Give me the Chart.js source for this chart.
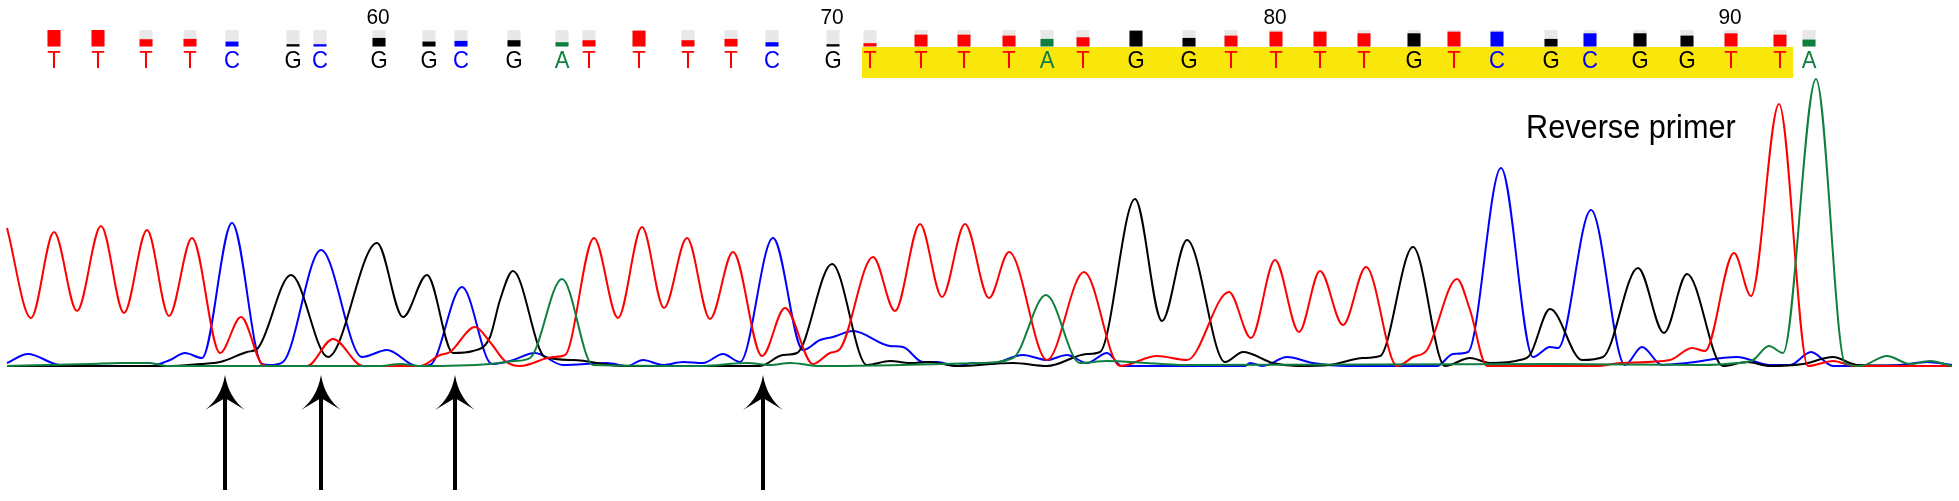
<!DOCTYPE html>
<html>
<head>
<meta charset="utf-8">
<script src="https://cdn.jsdelivr.net/npm/chart.js@4.4.1/dist/chart.umd.min.js"></script>
<style>
html,body{margin:0;padding:0;background:#fff;}
canvas{display:block;}
</style>
</head>
<body>
<canvas id="c" width="1959" height="501"></canvas>
<script>
// ---- base calls (first base number 53) ----
const firstBaseNumber = 53;
const baseCalls = "TTTTCGCGGCGATTTTCGTTTTATGGTTTTGTCGCGGTTA".split('');
const basePositions = [54,98,146,190,232,293,320,379,429,461,514,562,589,639,
  688,731,772,833,870,921,964,1009,1047,1083,1136,1189,1231,1276,
  1320,1364,1414,1454,1497,1551,1590,1640,1687,1731,1780,1809];
const qualityPct = [100,100,44,46,30,14,14,52,30,34,38,26,38,96,
  38,46,26,14,20,72,72,66,46,56,96,52,66,90,
  90,80,80,90,90,46,80,80,66,80,72,42];
const tickNumbers = [60,70,80,90];
const highlightBases = [71,91];
const arrowPositions = [225,321,455,763];
const annotationText = "Reverse primer";

// ---- traces: [scan, intensity] ----
const traceT = [[7,138],[31,48],[54,134],[77,55],[101,140],[124,53],[147,136],[169,50],[192,128],[220,13],[241,49],[263,1],[270,0],[307,0],[333,27],[363,0],[420,0],[440,11],[450,14],[475,39],[490,24],[505,5],[520,0],[553,9],[565,11],[594,128],[618,48],[642,139],[664,58],[687,128],[710,47],[733,114],[762,10],[785,58],[813,2],[830,13],[840,17],[873,109],[895,55],[920,142],[942,69],[965,142],[989,68],[1009,114],[1047,6],[1084,94],[1120,0],[1157,10],[1187,6],[1229,74],[1251,28],[1275,106],[1299,34],[1320,95],[1343,41],[1366,99],[1397,0],[1413,9],[1427,16],[1457,87],[1470,56],[1487,0],[1597,0],[1620,3],[1670,6],[1692,18],[1705,15],[1734,113],[1751,70],[1779,262],[1808,0],[1833,5],[1855,0],[1952,0]];
const traceC = [[7,3],[28,12],[60,1],[150,0],[170,6],[185,13],[202,8],[232,143],[262,2],[270,1],[283,4],[321,116],[362,9],[387,16],[417,0],[430,1],[462,79],[492,2],[510,5],[535,13],[563,1],[607,3],[627,0],[643,6],[663,1],[683,4],[703,3],[723,12],[740,4],[773,128],[803,16],[820,26],[833,29],[853,35],[890,20],[903,19],[923,4],[937,4],[957,0],[973,3],[990,2],[1023,11],[1047,6],[1067,11],[1087,3],[1107,13],[1122,0],[1245,0],[1250,3],[1263,0],[1287,9],[1313,3],[1347,0],[1437,0],[1453,12],[1468,14],[1501,198],[1533,9],[1550,19],[1558,18],[1591,156],[1625,1],[1642,19],[1662,1],[1687,3],[1737,9],[1770,1],[1790,1],[1811,14],[1833,0],[1900,1],[1927,4],[1952,1]];
const traceG = [[7,0],[167,0],[200,2],[220,4],[247,14],[258,18],[291,91],[328,9],[377,123],[403,49],[427,91],[453,13],[473,15],[490,29],[500,66],[513,95],[545,9],[573,6],[623,0],[760,0],[783,11],[797,13],[832,102],[867,1],[890,5],[910,3],[930,4],[957,0],[1013,3],[1047,0],[1087,12],[1100,14],[1135,167],[1162,45],[1187,126],[1225,4],[1243,14],[1273,3],[1297,0],[1330,1],[1363,8],[1380,10],[1413,119],[1445,0],[1470,8],[1490,3],[1520,6],[1530,11],[1550,57],[1582,6],[1603,9],[1638,98],[1664,33],[1687,92],[1723,0],[1747,4],[1770,0],[1803,2],[1833,9],[1857,1],[1952,0]];
const traceA = [[7,0],[90,2],[120,3],[150,3],[167,0],[380,0],[400,2],[420,0],[490,2],[515,5],[530,8],[562,87],[593,1],[700,0],[747,3],[770,1],[790,3],[820,0],[980,3],[1013,8],[1046,71],[1080,3],[1107,5],[1147,3],[1180,1],[1553,2],[1700,1],[1737,3],[1753,6],[1769,20],[1783,13],[1816,287],[1845,3],[1860,0],[1887,10],[1910,2],[1930,5],[1952,0]];

const baseColors = {T:'#ff0000', C:'#0000ff', G:'#000000', A:'#0e7f3e'};

function toPts(arr){ return arr.map(p => ({x:p[0], y:p[1]})); }
function ds(arr, color){
  return {data: toPts(arr), borderColor: color, borderWidth: 2, pointRadius: 0,
    fill: false, cubicInterpolationMode: 'monotone'};
}

const FONT = "Arial, 'Liberation Sans', sans-serif";

function narrowText(ctx, txt, x, y, sx){
  ctx.save();
  ctx.translate(x, y);
  ctx.scale(sx, 1);
  ctx.fillText(txt, 0, 0);
  ctx.restore();
}

const seqPlugin = {
  id: 'seq',
  beforeDatasetsDraw(chart){
    const ctx = chart.ctx, xs = chart.scales.x;
    const i0 = highlightBases[0] - firstBaseNumber, i1 = highlightBases[1] - firstBaseNumber;
    const left = xs.getPixelForValue(basePositions[i0]) - 8;
    const right = xs.getPixelForValue(basePositions[i1]) + 13;
    ctx.save();
    ctx.fillStyle = '#f9e60b';
    ctx.fillRect(left, 47, right - left, 31);
    ctx.restore();
  },
  afterDatasetsDraw(chart){
    const ctx = chart.ctx, xs = chart.scales.x;
    ctx.save();
    // quality bars + letters
    const barW = 13, barTop = 30, barH = 16.5;
    baseCalls.forEach((b, i) => {
      const x = xs.getPixelForValue(basePositions[i]);
      ctx.fillStyle = '#e8e8e8';
      ctx.fillRect(x - barW/2, barTop, barW, barH);
      const h = barH * qualityPct[i] / 100;
      ctx.fillStyle = baseColors[b];
      ctx.fillRect(x - barW/2, barTop + barH - h, barW, h);
      ctx.font = '24px ' + FONT;
      ctx.textAlign = 'center';
      ctx.textBaseline = 'alphabetic';
      narrowText(ctx, b, x, 68, 0.92);
    });
    // position numbers
    ctx.fillStyle = '#000';
    ctx.font = '22px ' + FONT;
    ctx.textAlign = 'center';
    tickNumbers.forEach(n => {
      const x = xs.getPixelForValue(basePositions[n - firstBaseNumber]);
      narrowText(ctx, String(n), x - 1, 24, 0.95);
    });
    // annotation
    ctx.font = '33px ' + FONT;
    ctx.textAlign = 'left';
    narrowText(ctx, annotationText, xs.getPixelForValue(1526), 138, 0.93);
    // arrows
    ctx.fillStyle = '#000';
    arrowPositions.forEach(p => {
      const x = xs.getPixelForValue(p);
      ctx.fillRect(x - 2, 396, 4, 94);
      ctx.beginPath();
      ctx.moveTo(x, 375);
      ctx.quadraticCurveTo(x - 4, 398, x - 20, 410);
      ctx.lineTo(x, 398);
      ctx.lineTo(x + 20, 410);
      ctx.quadraticCurveTo(x + 4, 398, x, 375);
      ctx.closePath();
      ctx.fill();
    });
    ctx.restore();
  }
};

new Chart(document.getElementById('c'), {
  type: 'line',
  data: {
    datasets: [
      ds(traceA, baseColors.A),
      ds(traceT, baseColors.T),
      ds(traceG, baseColors.G),
      ds(traceC, baseColors.C)
    ]
  },
  options: {
    responsive: false,
    animation: false,
    devicePixelRatio: 1,
    layout: {padding: 0},
    plugins: {legend: {display: false}, tooltip: {enabled: false}, title: {display: false}},
    scales: {
      x: {type: 'linear', min: 0, max: 1959, display: false},
      y: {type: 'linear', min: -135, max: 366, display: false}
    }
  },
  plugins: [seqPlugin]
});
</script>
</body>
</html>
